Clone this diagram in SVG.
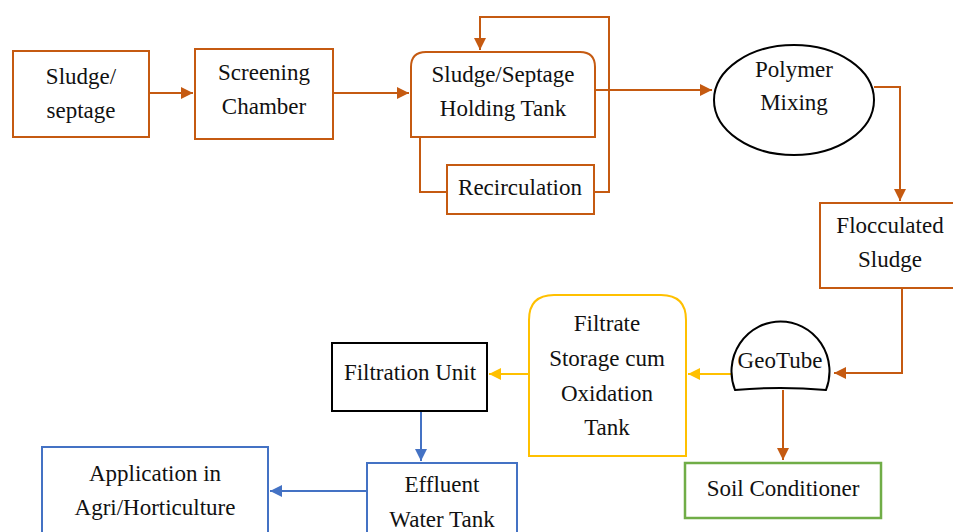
<svg xmlns="http://www.w3.org/2000/svg" width="953" height="532" viewBox="0 0 953 532">
<defs>
<style>
text{font-family:"Liberation Serif","Times New Roman",serif;font-size:23px;fill:#111;text-anchor:middle}
.o{fill:#fff;stroke:#C55A11;stroke-width:2}
.y{fill:#fff;stroke:#FFC000;stroke-width:2}
.b{fill:#fff;stroke:#4472C4;stroke-width:2}
.g{fill:#fff;stroke:#70AD47;stroke-width:2.5}
.k{fill:#fff;stroke:#000;stroke-width:2}
.co{fill:none;stroke:#C55A11;stroke-width:2}
.cy{fill:none;stroke:#FFC000;stroke-width:2}
.cb{fill:none;stroke:#4472C4;stroke-width:2}
</style>
<marker id="ao" viewBox="0 0 10 10" refX="10" refY="5" markerWidth="6" markerHeight="6" orient="auto" markerUnits="strokeWidth"><path d="M0,0 L10,5 L0,10 Z" fill="#C55A11"/></marker>
<marker id="ay" viewBox="0 0 10 10" refX="10" refY="5" markerWidth="6" markerHeight="6" orient="auto" markerUnits="strokeWidth"><path d="M0,0 L10,5 L0,10 Z" fill="#FFC000"/></marker>
<marker id="ab" viewBox="0 0 10 10" refX="10" refY="5" markerWidth="6" markerHeight="6" orient="auto" markerUnits="strokeWidth"><path d="M0,0 L10,5 L0,10 Z" fill="#4472C4"/></marker>
</defs>
<rect width="953" height="532" fill="#fff"/>
<g id="connectors">
<path class="co" d="M149,93 H193" marker-end="url(#ao)"/>
<path class="co" d="M333,93 H409" marker-end="url(#ao)"/>
<path class="co" d="M420,137 V192 H447"/>
<path class="co" d="M594,192 H609 V17 H480 V50" marker-end="url(#ao)"/>
<path class="co" d="M595,90 H712" marker-end="url(#ao)"/>
<path class="co" d="M874,87 H900 V201" marker-end="url(#ao)"/>
<path class="co" d="M902,288 V373 H834" marker-end="url(#ao)"/>
<path class="co" d="M783,390 V460" marker-end="url(#ao)"/>
<path class="cy" d="M731,374 H688" marker-end="url(#ay)"/>
<path class="cy" d="M529,374 H489" marker-end="url(#ay)"/>
<path class="cb" d="M421,411 V461" marker-end="url(#ab)"/>
<path class="cb" d="M367,491 H270" marker-end="url(#ab)"/>
</g>
<g id="sludge-septage"><rect class="o" x="13" y="51" width="136" height="86"/><text x="81" y="84">Sludge/</text><text x="81" y="118">septage</text></g>
<g id="screening-chamber"><rect class="o" x="195" y="49" width="138" height="90"/><text x="264" y="80">Screening</text><text x="264" y="114">Chamber</text></g>
<g id="holding-tank"><path class="o" d="M411,137 V67 Q411,52 426,52 H580 Q595,52 595,67 V137 Z"/><text x="503" y="82">Sludge/Septage</text><text x="503" y="116">Holding Tank</text></g>
<g id="recirculation"><rect class="o" x="447" y="165" width="147" height="49"/><text x="520" y="195">Recirculation</text></g>
<g id="polymer-mixing"><ellipse fill="#fff" stroke="#000" stroke-width="2" cx="794" cy="100" rx="80" ry="55"/><text x="794" y="77">Polymer</text><text x="794" y="110">Mixing</text></g>
<g id="flocculated-sludge"><rect class="o" x="820" y="203" width="140" height="85"/><text x="890" y="233">Flocculated</text><text x="890" y="267">Sludge</text></g>
<g id="geotube"><path fill="#fff" stroke="#000" stroke-width="2" d="M735,390 A49,50 0 1,1 826,390 Q780,386 735,390 Z"/><text x="780" y="368">GeoTube</text></g>
<g id="filtrate-storage"><path class="y" d="M529,456 V320 Q529,295 554,295 H661 Q686,295 686,320 V456 Z"/><text x="607" y="331">Filtrate</text><text x="607" y="366">Storage cum</text><text x="607" y="401">Oxidation</text><text x="607" y="435">Tank</text></g>
<g id="soil-conditioner"><rect class="g" x="685" y="463" width="196" height="55"/><text x="783" y="496">Soil Conditioner</text></g>
<g id="filtration-unit"><rect class="k" x="332" y="343" width="155" height="68"/><text x="410" y="380">Filtration Unit</text></g>
<g id="effluent-tank"><rect class="b" x="367" y="463" width="150" height="80"/><text x="442" y="492">Effluent</text><text x="442" y="527">Water Tank</text></g>
<g id="application"><rect class="b" x="42" y="447" width="226" height="96"/><text x="155" y="481">Application in</text><text x="155" y="515">Agri/Horticulture</text></g>
</svg>
